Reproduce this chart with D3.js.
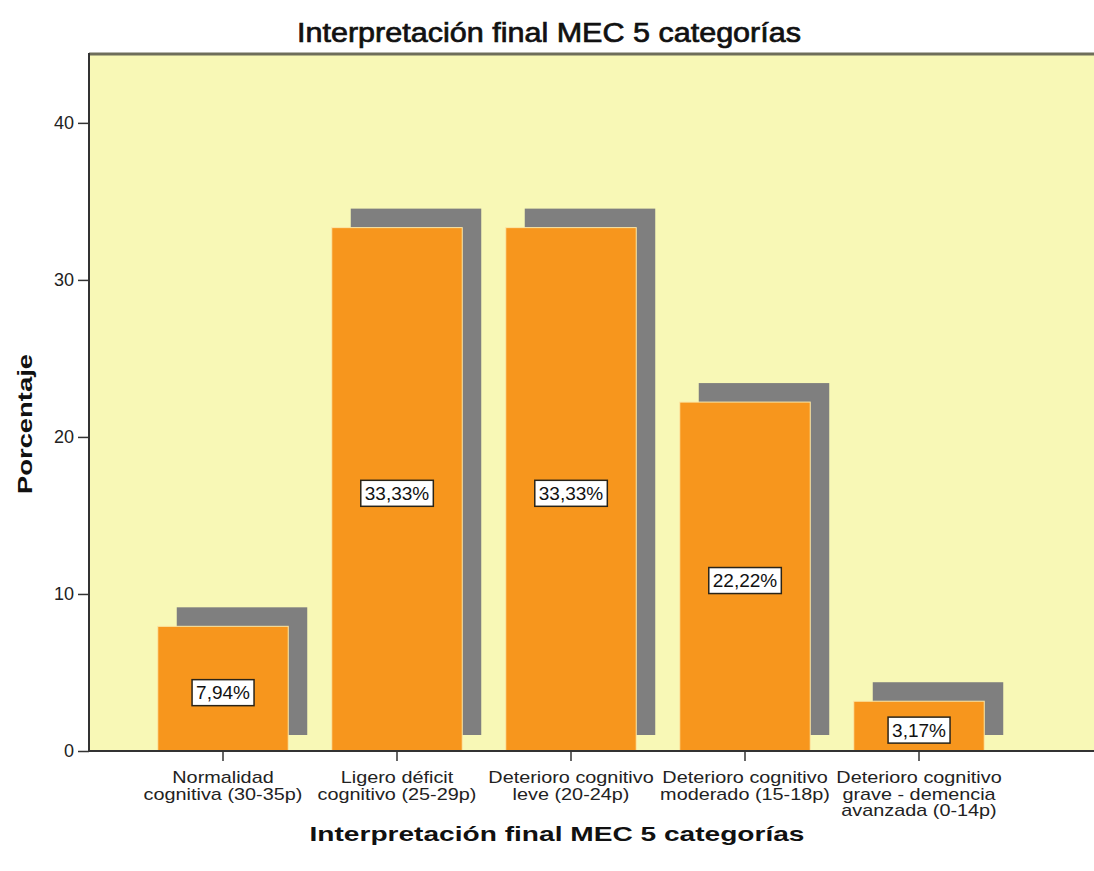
<!DOCTYPE html>
<html><head><meta charset="utf-8">
<script src="https://cdn.jsdelivr.net/npm/d3@7"></script>
<style>body{margin:0;background:#fff;} svg{display:block;}</style>
</head><body>
<svg id="c" width="1094" height="871"></svg>
<script>
const categories = [
  ["Normalidad","cognitiva (30-35p)"],
  ["Ligero déficit","cognitivo (25-29p)"],
  ["Deterioro cognitivo","leve (20-24p)"],
  ["Deterioro cognitivo","moderado (15-18p)"],
  ["Deterioro cognitivo","grave - demencia","avanzada (0-14p)"]
];
const values = [7.94, 33.33, 33.33, 22.22, 3.17];
const valueLabels = ["7,94%","33,33%","33,33%","22,22%","3,17%"];
const yTicks = [0,10,20,30,40];
const chartTitle = "Interpretación final MEC 5 categorías";
const xTitle = "Interpretación final MEC 5 categorías";
const yTitle = "Porcentaje";

(function(){
const svg = d3.select("#c");
const pL = 89, pT = 53, pB = 751, pR = 1094;
const font = "'Liberation Sans', Arial, sans-serif";

const y = d3.scaleLinear().domain([0, 44.45]).range([pB, pT]);
const x = d3.scaleBand().domain(d3.range(categories.length)).range([136, 1006])
  .paddingInner(0.25).paddingOuter(0.125);

svg.append("rect").attr("x", pL).attr("y", pT).attr("width", pR-pL).attr("height", pB-pT)
  .attr("fill", "#f8f8b6");
svg.append("line").attr("x1", pL).attr("x2", pR).attr("y1", pT+1).attr("y2", pT+1)
  .attr("stroke", "#6e6e5a").attr("stroke-width", 3);

const dx = 19, dyTop = 19, dyBot = 16;
svg.append("g").selectAll("rect").data(values).join("rect")
  .attr("x", (d,i)=>x(i)+dx).attr("width", x.bandwidth())
  .attr("y", d=>y(d)-dyTop).attr("height", d=>(y(0)-dyBot)-(y(d)-dyTop))
  .attr("fill", "#7f7f7f");
svg.append("g").selectAll("rect").data(values).join("rect")
  .attr("x", (d,i)=>x(i)).attr("width", x.bandwidth())
  .attr("y", d=>y(d)).attr("height", d=>y(0)-y(d))
  .attr("fill", "#f7961d").attr("stroke", "#fbe8a8").attr("stroke-width", 1);

const lg = svg.append("g");
values.forEach((v,i)=>{
  const cx = x(i)+x.bandwidth()/2, cy = y(v/2)+4;
  const t = lg.append("text").attr("x", cx).attr("y", cy).attr("text-anchor","middle")
    .attr("dominant-baseline","central").attr("font-family", font).attr("font-size", 19)
    .attr("fill","#111").text(valueLabels[i]);
  const bb = t.node().getBBox();
  lg.insert("rect", "text").attr("x", bb.x-4).attr("y", cy-13).attr("width", bb.width+8).attr("height", 26)
    .attr("fill","#fff").attr("stroke","#2a2418").attr("stroke-width",1.5);
});

const ya = svg.append("g").attr("transform", `translate(${pL},0)`)
  .call(d3.axisLeft(y).tickValues(yTicks).tickSize(11).tickPadding(4));
ya.select(".domain").attr("stroke","#333").attr("stroke-width",2).attr("d", `M0,${pT}V${pB}`);
ya.selectAll(".tick line").attr("stroke","#333").attr("stroke-width",1.5);
ya.selectAll(".tick text").attr("font-family", font).attr("font-size", 18).attr("fill","#222");

const xa = svg.append("g").attr("transform", `translate(0,${pB})`)
  .call(d3.axisBottom(x).tickSize(10).tickFormat(""));
xa.select(".domain").attr("stroke","#333").attr("stroke-width",2).attr("d", `M${pL},0H${pR}`);
xa.selectAll(".tick line").attr("stroke","#333").attr("stroke-width",1.5);
xa.selectAll(".tick").each(function(d){
  const g = d3.select(this);
  categories[d].forEach((ln,j)=>{
    g.append("text").attr("text-anchor","middle").attr("font-family", font)
      .attr("font-size", 16).attr("fill","#222")
      .attr("transform", `translate(0,${32 + j*16.5}) scale(1.24,1)`).text(ln);
  });
});

svg.append("text").attr("x", 549).attr("y", 42).attr("text-anchor","middle")
  .attr("font-family", font).attr("font-size", 27)
  .attr("stroke","#111").attr("stroke-width", 0.7)
  .attr("textLength", 504).attr("lengthAdjust","spacingAndGlyphs")
  .attr("fill","#111").text(chartTitle);
svg.append("text").attr("x", 557).attr("y", 841).attr("text-anchor","middle")
  .attr("font-family", font).attr("font-weight","bold").attr("font-size", 21)
  .attr("textLength", 495).attr("lengthAdjust","spacingAndGlyphs")
  .attr("fill","#111").text(xTitle);
svg.append("text").attr("transform","translate(32,424) rotate(-90)").attr("text-anchor","middle")
  .attr("font-family", font).attr("font-weight","bold").attr("font-size", 21)
  .attr("textLength", 140).attr("lengthAdjust","spacingAndGlyphs")
  .attr("fill","#111").text(yTitle);
})();
</script>
</body></html>
